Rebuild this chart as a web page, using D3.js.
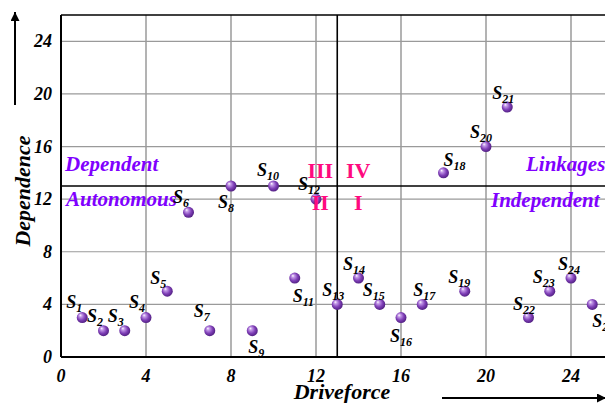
<!DOCTYPE html>
<html><head><meta charset="utf-8">
<script src="https://cdn.jsdelivr.net/npm/d3@7"></script>
<style>html,body{margin:0;padding:0;background:#fff;overflow:hidden}</style>
</head><body>
<svg id="c" width="605" height="403"></svg>
<script>
const names = ["1","2","3","4","5","6","7","8","9","10","11","12","13","14","15","16","17","18","19","20","21","22","23","24","25"];
const driveforce = [1,2,3,4,5,6,7,8,9,10,11,12,13,14,15,16,17,18,19,20,21,22,23,24,25];
const dependence = [3,2,2,3,5,11,2,13,2,13,6,12,4,6,4,3,4,14,5,16,19,3,5,6,4];
const xTicks = [0,4,8,12,16,20,24];
const yTicks = [0,4,8,12,16,20,24];
const quadrantNames = ["Dependent","Autonomous","Linkages","Independent"];
const romanNames = ["III","IV","II","I"];
const divider = 13;

// layout (label offsets in px relative to point)
const labelOffsets = [[-16,-10],[-16.5,-9],[-17,-9],[-17,-10],[-17,-7],[-15.5,-9],[-16,-14],[-13,22],[-4,22],[-16.5,-10],
 [-2,24],[-18,-9],[-15,-8.5],[-15.5,-8],[-17,-8.5],[-11,24],[-9,-8.5],[0,-7],[-16.5,-8],[-16,-9],[-15,-8],[-15.5,-8],[-17,-8],[-13,-8],[0,23]];

const svg = d3.select("#c");
const x = d3.scaleLinear().domain([0,26]).range([61,613.5]);
const y = d3.scaleLinear().domain([0,26]).range([357,15]);
const serif = "'Liberation Serif','Times New Roman',serif";

const defs = svg.append("defs");
const g = defs.append("radialGradient").attr("id","ball").attr("cx","45%").attr("cy","45%").attr("r","60%").attr("fx","32%").attr("fy","28%");
g.append("stop").attr("offset","0%").attr("stop-color","#ffffff");
g.append("stop").attr("offset","22%").attr("stop-color","#c49ae8");
g.append("stop").attr("offset","60%").attr("stop-color","#8040b8");
g.append("stop").attr("offset","100%").attr("stop-color","#4a1a7a");
const mk = defs.append("marker").attr("id","arr").attr("viewBox","0 0 10 10").attr("refX",10).attr("refY",5)
  .attr("markerWidth",4.5).attr("markerHeight",4.5).attr("orient","auto-start-reverse").attr("markerUnits","strokeWidth");
mk.append("path").attr("d","M0,0L10,5L0,10z").attr("fill","#000");

// grid
svg.append("g").selectAll("line").data(xTicks.filter(d=>d>0)).join("line")
  .attr("x1",d=>x(d)).attr("x2",d=>x(d)).attr("y1",y(26)).attr("y2",y(0))
  .attr("stroke","#9a9a9a").attr("stroke-width",1.5);
svg.append("g").selectAll("line").data(yTicks.filter(d=>d>0)).join("line")
  .attr("y1",d=>y(d)).attr("y2",d=>y(d)).attr("x1",x(0)).attr("x2",x(26))
  .attr("stroke","#9a9a9a").attr("stroke-width",1.2);

// frame
svg.append("line").attr("x1",x(0)).attr("x2",x(26)).attr("y1",y(26)).attr("y2",y(26)).attr("stroke","#000").attr("stroke-width",1.6);
svg.append("line").attr("x1",x(0)).attr("x2",x(0)).attr("y1",y(26)).attr("y2",y(0)).attr("stroke","#000").attr("stroke-width",2);
svg.append("line").attr("x1",x(0)).attr("x2",x(26)).attr("y1",y(0)).attr("y2",y(0)).attr("stroke","#000").attr("stroke-width",2);

// dividers
svg.append("line").attr("x1",x(divider)).attr("x2",x(divider)).attr("y1",y(26)).attr("y2",y(0)).attr("stroke","#000").attr("stroke-width",1.6);
svg.append("line").attr("x1",x(0)).attr("x2",x(26)).attr("y1",y(divider)).attr("y2",y(divider)).attr("stroke","#000").attr("stroke-width",1.6);

// ticks labels
svg.append("g").selectAll("text").data(yTicks).join("text")
  .attr("x",52).attr("y",d=>y(d)+6).attr("text-anchor","end")
  .attr("font-family",serif).attr("font-size",18).attr("font-weight","bold").attr("font-style","italic")
  .text(d=>d);
svg.append("g").selectAll("text").data(xTicks).join("text")
  .attr("x",d=>x(d)).attr("y",382).attr("text-anchor","middle")
  .attr("font-family",serif).attr("font-size",18).attr("font-weight","bold").attr("font-style","italic")
  .text(d=>d);

// axis titles
svg.append("text").attr("transform",`translate(30,191) rotate(-90)`).attr("text-anchor","middle")
  .attr("font-family",serif).attr("font-size",22).attr("font-weight","bold").attr("font-style","italic").text("Dependence");
svg.append("text").attr("x",342).attr("y",399).attr("text-anchor","middle")
  .attr("font-family",serif).attr("font-size",22).attr("font-weight","bold").attr("font-style","italic").text("Driveforce");

// arrows
svg.append("line").attr("x1",15).attr("x2",15).attr("y1",105).attr("y2",12).attr("stroke","#000").attr("stroke-width",2).attr("marker-end","url(#arr)");
svg.append("line").attr("x1",442).attr("x2",606).attr("y1",398).attr("y2",398).attr("stroke","#000").attr("stroke-width",2).attr("marker-end","url(#arr)");

// quadrant names
const qpos = [[x(0)+4, y(divider)-15,"start"],[x(0)+5, y(divider)+20,"start"],[526, y(divider)-15,"start"],[491, y(divider)+21,"start"]];
svg.append("g").selectAll("text").data(quadrantNames).join("text")
  .attr("x",(d,i)=>qpos[i][0]).attr("y",(d,i)=>qpos[i][1]).attr("text-anchor",(d,i)=>qpos[i][2])
  .attr("font-family",serif).attr("font-size",21).attr("font-weight","bold").attr("font-style","italic")
  .attr("fill","#8000ff").text(d=>d);

// points
const pts = names.map((n,i)=>({n, x:driveforce[i], y:dependence[i], o:labelOffsets[i]}));
svg.append("g").selectAll("circle").data(pts).join("circle")
  .attr("cx",d=>x(d.x)).attr("cy",d=>y(d.y)).attr("r",5.5).attr("fill","url(#ball)");

const lab = svg.append("g").selectAll("text").data(pts).join("text")
  .attr("x",d=>x(d.x)+d.o[0]).attr("y",d=>y(d.y)+d.o[1])
  .attr("font-family",serif).attr("font-weight","bold").attr("font-style","italic").attr("fill","#000");
lab.append("tspan").attr("font-size",18).text("S");
lab.append("tspan").attr("font-size",12).attr("dy",4).text(d=>d.n);

// roman numerals
const rpos = [[x(divider)-17, y(divider)-8],[x(divider)+21, y(divider)-8],[x(divider)-17, y(divider)+24],[x(divider)+21, y(divider)+24]];
svg.append("g").selectAll("text").data(romanNames).join("text")
  .attr("x",(d,i)=>rpos[i][0]).attr("y",(d,i)=>rpos[i][1]).attr("text-anchor","middle")
  .attr("font-family",serif).attr("font-size",22).attr("font-weight","bold")
  .attr("fill","#ff0a7f").text(d=>d);
</script>
</body></html>
